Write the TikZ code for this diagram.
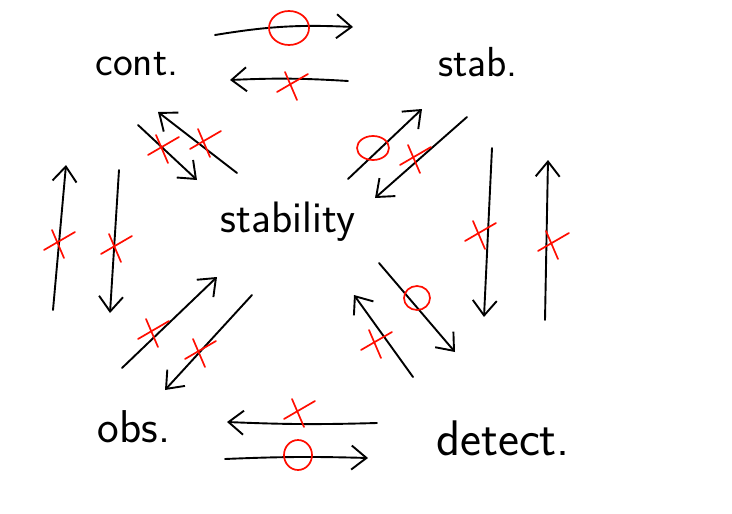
\documentclass[tikz,border=0pt]{standalone}
\usetikzlibrary{arrows.meta}
\begin{document}
\begin{tikzpicture}[x=1pt,y=-1pt,
  lbl/.style={font=\sffamily\fontsize{42}{46}\selectfont, inner sep=0pt},
  conn/.style={line width=1.9pt, line cap=round, -{Straight Barb[length=15pt,width=24pt,line width=1.9pt]}},
  redmark/.style={red!90!orange, line width=1.7pt, line cap=round},
  xmk/.pic={\draw[redmark] (-14,8) -- (17,-10); \draw[redmark] (-6,-12) -- (6,16);},
]
\useasboundingbox (0,0) rectangle (732,514);
\fill[white] (0,0) rectangle (732,514);

% labels
\node[lbl] (cont) at (137,64) {cont.};
\node[lbl] (stab) at (478,62) {stab.};
\node[lbl, font=\sffamily\fontsize{44}{48}\selectfont] (sty) at (288,222) {stability};
\node[lbl, font=\sffamily\fontsize{46}{50}\selectfont] (obs) at (134,427) {obs.};
\node[lbl, font=\sffamily\fontsize{50}{54}\selectfont] (det) at (503,438) {detect.};

% endpoints
\coordinate (t1a) at (215,35);  \coordinate (t1b) at (353,27);
\coordinate (t2a) at (348,81);  \coordinate (t2b) at (230,80);
\coordinate (l1a) at (53,310);  \coordinate (l1b) at (66,165);
\coordinate (l2a) at (119,170); \coordinate (l2b) at (110,313);
\coordinate (r1a) at (492,148); \coordinate (r1b) at (484,317);
\coordinate (r2a) at (545,320); \coordinate (r2b) at (548,160);
\coordinate (b1a) at (377,423); \coordinate (b1b) at (227,422);
\coordinate (b2a) at (225,459); \coordinate (b2b) at (368,458);
\coordinate (d1a) at (138,125); \coordinate (d1b) at (197,180);
\coordinate (d2a) at (237,173); \coordinate (d2b) at (158,112);
\coordinate (d3a) at (348,179); \coordinate (d3b) at (422,109);
\coordinate (d4a) at (467,117); \coordinate (d4b) at (375,198);
\coordinate (d5a) at (122,368); \coordinate (d5b) at (217,277);
\coordinate (d6a) at (252,295); \coordinate (d6b) at (165,390);
\coordinate (d7a) at (379,263); \coordinate (d7b) at (455,352);
\coordinate (d8a) at (413,377); \coordinate (d8b) at (354,295);

% connectors
\draw[conn] (t1a) to[bend left=6] (t1b);
\draw[conn] (t2a) to[bend right=3] (t2b);
\draw[conn] (l1a) -- (l1b);
\draw[conn] (l2a) -- (l2b);
\draw[conn] (r1a) -- (r1b);
\draw[conn] (r2a) -- (r2b);
\draw[conn] (b1a) to[bend left=2] (b1b);
\draw[conn] (b2a) to[bend left=2] (b2b);
\draw[conn] (d1a) -- (d1b);
\draw[conn] (d2a) -- (d2b);
\draw[conn] (d3a) -- (d3b);
\draw[conn] (d4a) -- (d4b);
\draw[conn] (d5a) -- (d5b);
\draw[conn] (d6a) -- (d6b);
\draw[conn] (d7a) -- (d7b);
\draw[conn] (d8a) -- (d8b);

% red marks: circles
\draw[redmark] (289,28) ellipse [x radius=20pt, y radius=17pt];
\draw[redmark] (373,148) ellipse [x radius=16pt, y radius=12pt];
\draw[redmark] (417,298) ellipse [x radius=13pt, y radius=12pt];
\draw[redmark] (298,455) ellipse [x radius=14pt, y radius=15pt];

% red marks: crosses
\pic at (291,84) {xmk};
\pic at (162,147) {xmk};
\pic at (204,141) {xmk};
\pic at (414,157) {xmk};
\pic at (58,242) {xmk};
\pic at (115,246) {xmk};
\pic at (479,233) {xmk};
\pic at (552,243) {xmk};
\pic at (152,331) {xmk};
\pic at (199,351) {xmk};
\pic at (375,342) {xmk};
\pic at (298,411) {xmk};
\end{tikzpicture}
\end{document}
